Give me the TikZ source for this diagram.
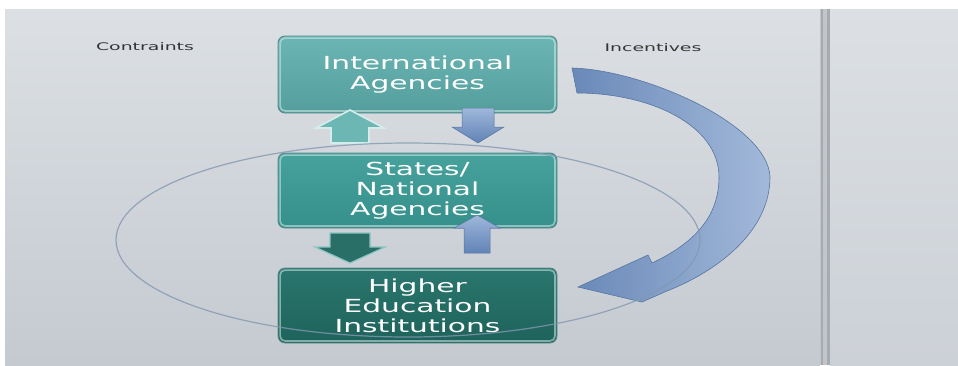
\documentclass[tikz,border=0pt]{standalone}
\usepackage{fontspec}
\newfontfamily\boxfont[FakeStretch=1.65]{DejaVu Sans}
\newfontfamily\labfont[FakeStretch=1.8]{DejaVu Sans}
\definecolor{bgtop}{HTML}{DCE0E4}
\definecolor{bgbot}{HTML}{C5CAD1}
\definecolor{divd}{HTML}{A7ABB0}
\definecolor{divl}{HTML}{C2C6CA}
\definecolor{iatop}{HTML}{6BB6B5}
\definecolor{iabot}{HTML}{549F9E}
\definecolor{sttop}{HTML}{47A29E}
\definecolor{stbot}{HTML}{358F8A}
\definecolor{hetop}{HTML}{2A766E}
\definecolor{hebot}{HTML}{1E635B}
\definecolor{boxedge}{HTML}{5C8A8C}
\definecolor{hilite}{HTML}{D4ECEA}
\definecolor{bluedark}{HTML}{6183B6}
\definecolor{bluelight}{HTML}{9FB7DA}
\definecolor{blueedge}{HTML}{56759F}
\definecolor{ellcol}{HTML}{8497B0}
\definecolor{labcol}{HTML}{353535}
\definecolor{ltteal}{HTML}{6CB7B4}
\definecolor{dkteal}{HTML}{296F68}
\newcommand{\blockar}[7][]{%
  \path[#1] (#2-#6,#5) -- (#2-#6,#4) -- (#2-#7,#4) -- (#2,#3) -- (#2+#7,#4)
     -- (#2+#6,#4) -- (#2+#6,#5) -- cycle;}
\begin{document}
\begin{tikzpicture}[x=1pt,y=-1pt,
  box/.style={rectangle, rounded corners=7pt, minimum width=279pt,
    draw=boxedge, line width=0.9pt, text=white, align=center, inner sep=0pt,
    font=\boxfont\fontsize{18}{20}\selectfont},
  hl/.style={draw=hilite, line width=1.6pt, rounded corners=5pt, opacity=0.55},
  lab/.style={text=labcol, font=\labfont\fontsize{10.5}{12}\selectfont, inner sep=0pt},
  bluear/.style={top color=bluelight, bottom color=bluedark, draw=blueedge, line width=0.5pt},
  tealup/.style={fill=ltteal, draw=hilite, line width=1.6pt},
  tealdown/.style={fill=dkteal, draw=ltteal!80!white, line width=1.2pt},
  bigarrow/.style={left color=bluedark, right color=bluelight, draw=blueedge,
    line width=0.6pt, fill opacity=0.92},
  ell/.style={draw=ellcol, line width=1.2pt, opacity=0.8}]
\useasboundingbox (0,0) rectangle (958,365);
% background
\fill[white] (0,0) rectangle (958,365);
\shade[top color=bgtop, bottom color=bgbot] (5,9) rectangle (820,365);
\shade[top color=bgtop, bottom color=bgbot!70!bgtop] (830,9) rectangle (958,365);
\fill[divl] (820,9) rectangle (830,365);
\fill[divd] (820.5,9) rectangle (823,365);
\fill[divd] (827,9) rectangle (829.5,365);
% labels
\node[lab] (con) at (145,47) {Contraints};
\node[lab] (inc) at (653,48) {Incentives};
% boxes
\node[box, minimum height=77pt, top color=iatop, bottom color=iabot] (ia) at (417.5,74.5) {International\\Agencies};
\node[box, minimum height=75pt, top color=sttop, bottom color=stbot] (st) at (417.5,190.5) {States/\\National\\Agencies};
\node[box, minimum height=75pt, top color=hetop, bottom color=hebot] (he) at (417.5,305.5) {Higher\\Education\\Institutions};
\foreach \n in {ia,st,he}{
  \draw[hl] ([shift={(2.5pt,-2.5pt)}]\n.north west) rectangle ([shift={(-2.5pt,2.5pt)}]\n.south east);
}
% small block arrows
\blockar[tealup]{350}{110}{128}{143}{19}{34}
\blockar[bluear]{478}{143}{127}{108}{16}{26}
\blockar[tealdown]{350}{263}{247}{233}{20}{35}
\blockar[bluear]{477}{215}{228}{253}{13}{23}
% big curved arrow
\path[bigarrow] (577,93) .. controls (650,93) and (719,125) .. (719,177)
  .. controls (719,220) and (690,245) .. (652,263)
  -- (648,255) -- (578,287) -- (642,302) -- (667,291)
  .. controls (720,270) and (770,230) .. (770,177)
  .. controls (768,125) and (645,70) .. (572,68)
  -- cycle;
% ellipse
\draw[ell] (408,240) ellipse [x radius=292pt, y radius=97pt];
\end{tikzpicture}
\end{document}
